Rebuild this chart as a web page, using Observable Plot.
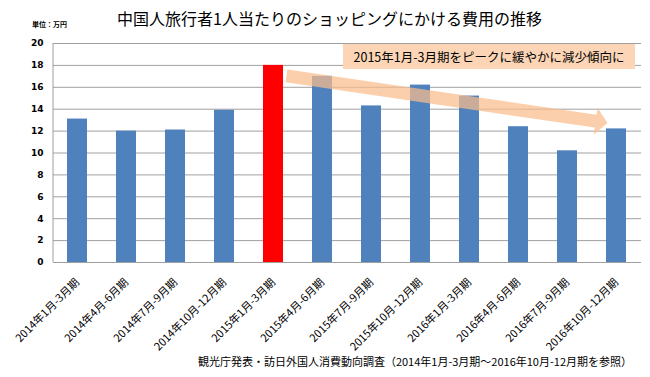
<!DOCTYPE html>
<html><head><meta charset="utf-8">
<script src="https://cdn.jsdelivr.net/npm/d3@7"></script>
<script src="https://cdn.jsdelivr.net/npm/@observablehq/plot@0.6"></script>
<style>
body{margin:0;background:#fff;font-family:"Noto Sans CJK JP",sans-serif;color:#000}
#wrap{position:relative;width:650px;height:377px;overflow:hidden;background:#fff}
#chart{position:absolute;left:0;top:0}
#title{position:absolute;left:117px;top:10px;font-size:16px;line-height:1;white-space:nowrap}
#unit{position:absolute;left:32px;top:21px;font-size:7px;font-weight:bold;line-height:1;white-space:nowrap}
#note{position:absolute;left:343px;top:44px;width:292px;height:25px;background:#fbd5b5;font-size:12.5px;line-height:25px;text-align:center;white-space:nowrap}
#caption{position:absolute;right:18px;top:356px;font-size:11px;line-height:1;white-space:nowrap}
#chart g[aria-label="y-axis tick label"] text, #chart g[aria-label="y-axis"] text{font-family:"DejaVu Sans";font-weight:bold;font-size:9px}
#chart g[aria-label="x-axis tick label"] text, #chart g[aria-label="x-axis"] text{font-size:11px}
</style></head><body>
<div id="wrap">
<div id="chart"></div>
<div id="title">中国人旅行者1人当たりのショッピングにかける費用の推移</div>
<div id="unit">単位：万円</div>
<div id="note">2015年1月-3月期をピークに緩やかに減少傾向に</div>
<div id="caption">観光庁発表・訪日外国人消費動向調査（2014年1月-3月期～2016年10月-12月期を参照）</div>
</div>
<script>
const categories = [
  "2014年1月-3月期","2014年4月-6月期","2014年7月-9月期","2014年10月-12月期",
  "2015年1月-3月期","2015年4月-6月期","2015年7月-9月期","2015年10月-12月期",
  "2016年1月-3月期","2016年4月-6月期","2016年7月-9月期","2016年10月-12月期"
];
const values = [13.1, 12.0, 12.1, 13.9, 18.0, 17.0, 14.3, 16.2, 15.2, 12.4, 10.2, 12.2];
const peakPeriod = "2015年1月-3月期";
const yTicks = [0, 2, 4, 6, 8, 10, 12, 14, 16, 18, 20];
const arrowFrom = ["2015年1月-3月期", 17.0];
const arrowTo = ["2016年10月-12月期", 12.7];

const data = categories.map((period, i) => ({period, value: values[i]}));

function trendArrow(index, scales) {
  const x = scales.x, y = scales.y, bw = x.bandwidth();
  const x0 = x(arrowFrom[0]) + bw + 3.5, y0 = y(arrowFrom[1]);
  const x1 = x(arrowTo[0]) + 1.5, y1 = y(arrowTo[1]);
  const dx = x1 - x0, dy = y1 - y0, len = Math.hypot(dx, dy);
  const ux = dx / len, uy = dy / len, nx = -uy, ny = ux;
  const shaft = 6.5, headW = 13.5, headL = 12;
  const bx = x1 - ux * headL, by = y1 - uy * headL;
  const pts = [
    [x0 + nx * shaft, y0 + ny * shaft],
    [bx + nx * shaft, by + ny * shaft],
    [bx + nx * headW, by + ny * headW],
    [x1, y1],
    [bx - nx * headW, by - ny * headW],
    [bx - nx * shaft, by - ny * shaft],
    [x0 - nx * shaft, y0 - ny * shaft]
  ];
  const g = d3.create("svg:g");
  g.append("path")
    .attr("d", "M" + pts.map(p => p.join(",")).join("L") + "Z")
    .attr("fill", "#f9bd8c")
    .attr("fill-opacity", 0.72);
  return g.node();
}

function leftLine(index, scales) {
  const g = d3.create("svg:g");
  const x = scales.x.range()[0];
  g.append("line").attr("x1", x).attr("x2", x)
    .attr("y1", scales.y(0)).attr("y2", scales.y(20))
    .attr("stroke", "#a0a0a0");
  return g.node();
}

const chart = Plot.plot({
  width: 650,
  height: 377,
  marginLeft: 53,
  marginRight: 9,
  marginTop: 43,
  marginBottom: 115,
  style: {fontFamily: "'Noto Sans CJK JP', sans-serif", fontSize: "10px", color: "#000", background: "transparent"},
  x: {domain: categories, paddingInner: 0.59, paddingOuter: 0.295, tickRotate: -45, tickSize: 0, tickPadding: 18, label: null},
  y: {domain: [0, 20], ticks: yTicks, tickSize: 0, tickPadding: 10, label: null},
  marks: [
    Plot.ruleY(yTicks, {stroke: "#a0a0a0", strokeWidth: 1}),
    leftLine,
    Plot.barY(data, {x: "period", y: "value", fill: d => d.period === peakPeriod ? "#ff0000" : "#4f81bd"}),
    trendArrow
  ]
});
document.getElementById("chart").appendChild(chart);
</script>
</body></html>
